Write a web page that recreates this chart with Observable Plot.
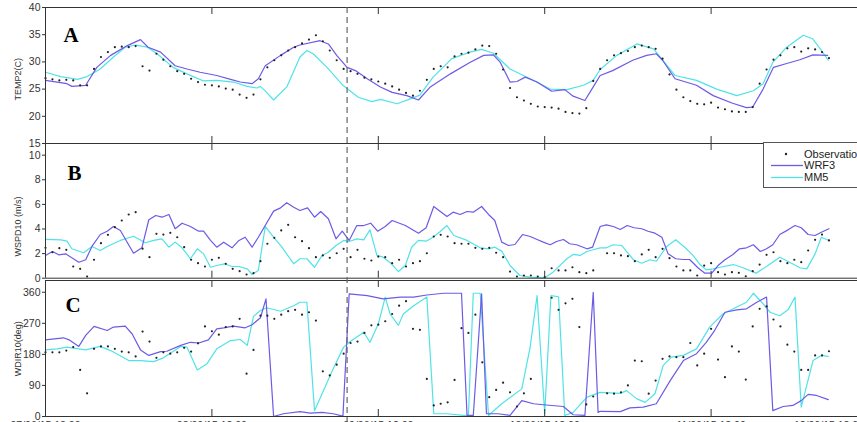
<!DOCTYPE html>
<html><head><meta charset="utf-8">
<script src="https://cdn.jsdelivr.net/npm/d3@7"></script>
<script src="https://cdn.jsdelivr.net/npm/@observablehq/plot@0.6"></script>
<style>
body{margin:0;background:#fff;}
#chart{position:relative;width:857px;height:422px;overflow:hidden;background:#fff;}
#chart svg.plotsvg{position:absolute;left:0;top:0;}
#legend{position:absolute;left:763px;top:142px;width:110px;height:44px;border:1px solid #555;background:#fff;}
</style></head><body><div id="chart"></div>
<script>
// ---------- DATA (hours since start, one observation per hour) ----------
const seriesNames = ["Observation", "WRF3", "MM5"];
const colors = {obs: "#222", wrf: "#6b5be6", mm5: "#4fe3e8"};
const forecastStart = 43.5;           // dashed vertical line (hour)
const dayTicks = [24, 48, 72, 96];
const xTickHours = [0, 24, 48, 72, 96, 113];
const xTickLabels = ["07/06/15 12:00","08/06/15 12:00","09/06/15 12:00","10/06/15 12:00","11/06/15 12:00","12/06/15 12:00"];

// Panel A: TEMP2 (C)
const aObs = [27.0,26.8,26.6,26.7,26.6,25.7,25.7,28.7,30.9,31.8,
 32.7,32.8,32.7,32.9,29.2,28.4,31.5,30.4,29.2,28.3,
 27.8,26.9,26.3,25.8,25.7,25.5,25.1,24.9,24.0,23.4,
 24.0,26.8,29.0,30.3,31.2,32.1,32.7,33.4,34.1,34.9,
 33.8,32.1,30.3,28.7,28.3,27.8,27.1,26.8,26.4,26.0,
 25.5,24.9,24.3,23.8,24.7,26.7,28.7,29.2,29.0,31.0,
 31.5,31.7,32.3,33.0,32.9,31.5,28.6,25.2,23.5,22.9,
 22.3,21.8,21.7,21.6,21.4,20.8,20.6,20.5,21.5,26.5,
 28.7,30.3,31.2,31.6,32.0,32.7,33.0,32.7,32.4,30.6,
 27.7,24.9,23.5,22.8,22.3,22.2,22.5,21.6,21.3,20.9,
 20.8,20.8,21.7,26.0,28.6,30.4,31.2,32.5,32.7,31.9,
 32.5,32.3,31.8,30.7];
const aWrfH = [0,3.1,3.8,5.8,7.4,9.4,11.8,13.7,14.8,16.6,18.7,20.4,22.3,24.7,26.7,28.1,29.8,30.7,31.7,33.9,35.8,36.7,39.6,40.8,42.0,43.5,44.7,46.4,48.3,50.0,52.1,53.8,55.5,58.4,61.2,63.2,64.6,65.6,67.0,68.0,69.2,70.9,73.0,74.9,76.1,77.8,79.0,80.0,81.8,84.7,86.7,88.1,89.0,90.8,93.9,96.3,99.1,101.1,102.0,103.5,105.0,106.9,108.8,110.7,112.8];
const aWrfV = [26.6,26.0,25.5,25.7,29.0,31.2,33.0,34.1,32.7,31.8,29.3,28.7,28.1,27.5,26.8,26.3,26.0,26.9,29.3,31.2,32.7,33.1,33.9,33.3,31.2,29.0,28.4,26.9,25.4,24.4,23.8,23.0,25.4,27.8,29.9,31.2,31.3,29.9,26.3,26.4,27.2,26.3,24.6,24.9,23.7,22.9,25.4,27.5,28.4,30.3,31.2,31.5,30.3,26.9,25.7,23.8,22.4,21.6,21.7,25.0,29.0,29.7,30.4,31.3,31.2];
const aMmH = [0,2.2,4.6,6.0,7.9,9.8,11.5,13.0,14.7,16.1,18.4,20.4,22.8,24.7,27.1,29.1,30.5,31.0,31.9,32.9,34.8,36.7,37.7,38.6,40.6,42.9,45.1,47.1,48.3,50.7,52.6,54.0,55.9,58.6,61.2,62.9,64.6,67.0,69.9,72.8,75.2,77.6,79.0,80.0,82.4,85.3,87.7,90.8,93.9,96.8,99.7,102.1,103.5,104.9,106.9,109.3,110.7,111.9,112.9];
const aMmV = [28.1,27.3,26.8,27.3,28.7,30.9,32.7,33.1,32.7,31.5,29.0,27.8,26.5,26.6,26.3,25.5,25.2,25.5,24.4,23.0,25.4,30.9,32.1,31.5,29.0,25.7,23.5,22.7,23.1,22.3,23.2,23.9,27.2,30.6,31.8,32.3,31.6,28.7,26.9,25.0,24.9,25.7,26.6,28.6,31.2,33.3,32.4,27.5,26.6,25.0,23.8,24.7,26.0,29.9,32.7,34.9,34.2,32.1,30.3];

// Panel B: WSPD10 (m/s)
const bObs = [2.47,2.11,2.44,2.31,0.95,0.76,0.14,1.50,2.85,3.53,
 4.15,4.69,5.18,5.37,2.4,1.71,3.61,3.55,3.69,3.33,
 2.52,1.50,1.22,0.95,1.50,1.66,1.17,0.76,0.57,0.30,
 0.41,1.38,2.80,3.28,3.88,4.34,3.33,3.01,2.44,1.71,
 1.85,1.66,2.03,2.39,1.71,2.31,1.58,1.44,1.76,1.71,
 1.22,1.50,0.95,1.22,1.38,2.03,3.39,3.53,3.39,2.85,
 2.80,2.80,2.47,2.39,2.47,2.07,1.71,0.54,0.14,0.22,
 0.22,0.14,0.08,0.81,0.63,0.63,0.89,0.49,0.41,0.63,
 null,2.03,2.03,1.85,1.79,1.38,1.93,2.31,1.71,2.39,
 1.63,0.95,0.63,0.63,0.22,1.03,1.22,0.49,0.30,0.49,
 0.44,0.16,0.57,1.11,1.90,2.11,1.38,1.22,1.50,1.30,
 2.25,3.12,3.55,3.07];
const bWrfH = [0,1.0,1.9,2.9,4.8,5.8,6.7,7.9,8.9,9.8,10.8,12.7,13.9,14.9,15.9,16.8,17.8,18.7,19.7,20.9,22.1,22.8,23.8,24.7,25.7,26.9,27.9,28.8,29.8,30.7,32.9,33.9,34.8,35.8,36.7,37.8,38.8,39.7,40.8,41.9,42.8,43.8,44.9,45.9,46.9,47.9,49.0,50.0,51.9,53.8,54.9,56.0,56.9,57.9,58.8,59.8,60.8,61.7,62.9,63.9,64.8,65.8,66.8,67.7,68.8,69.9,70.9,71.8,72.8,73.7,74.7,75.6,76.6,78.1,78.9,80.0,80.9,81.9,82.9,83.9,84.9,86.0,86.9,87.9,88.9,89.8,90.9,92.0,92.9,94.1,95.1,96.1,97.0,98.0,99.1,100.1,101.1,102.1,103.1,104.0,104.9,105.9,107.1,108.1,109.0,110.0,111.0,111.9,113.0];
const bWrfV = [1.85,2.17,1.90,1.98,1.30,1.50,2.58,3.55,3.82,4.20,3.88,2.03,2.47,4.75,5.10,4.96,5.18,4.02,4.47,4.20,3.82,3.82,3.07,2.52,2.93,2.47,3.07,3.33,2.52,3.33,5.45,5.72,6.13,5.77,5.50,5.72,4.96,5.42,4.83,3.20,3.82,3.07,4.28,4.28,4.47,3.82,4.20,4.69,4.28,3.66,4.10,5.83,5.45,5.02,5.37,5.18,5.42,5.37,5.83,5.18,4.69,2.93,2.66,2.74,3.55,3.39,3.15,2.93,2.72,2.98,3.15,2.80,2.72,2.39,2.52,4.20,4.34,4.20,3.96,4.28,4.10,4.02,3.82,3.66,3.33,1.98,1.58,1.52,1.52,0.85,0.41,0.41,1.03,1.50,1.90,2.39,2.47,2.72,2.17,2.39,2.72,3.55,3.93,4.28,4.10,3.55,3.47,3.74,4.02];
const bMmH = [0,2.2,3.1,3.8,5.5,6.7,7.9,8.9,10.8,12.7,14.4,15.6,16.8,17.8,18.7,19.7,20.9,21.9,22.8,23.8,24.7,25.8,26.9,27.9,29.1,29.8,30.7,31.7,32.9,34.1,35.8,36.7,37.7,38.8,39.9,40.8,41.9,43.0,43.8,44.9,45.9,46.8,47.8,48.7,49.8,50.9,51.9,52.8,53.8,54.9,55.9,56.8,57.9,58.9,60.8,62.7,63.9,64.8,65.8,67.0,68.4,69.9,72.0,73.2,75.2,76.1,77.1,78.1,79.0,80.0,80.9,81.9,83.1,84.8,86.0,87.2,88.1,89.6,90.9,92.2,93.4,94.4,95.3,96.3,97.3,99.2,100.6,102.5,104.2,105.9,107.6,108.8,109.8,111.0,111.9,113.0];
const bMmV = [3.15,3.12,3.01,2.39,2.07,2.58,2.25,2.58,3.07,3.41,2.88,3.07,3.20,2.52,2.93,2.47,1.58,2.39,1.98,0.89,1.03,1.17,0.95,0.95,0.76,0.30,0.63,4.20,3.33,2.52,1.17,1.58,1.58,0.89,1.85,2.11,2.66,3.07,2.98,3.20,3.12,3.93,1.85,1.71,1.22,0.54,1.03,2.52,3.07,3.01,3.33,3.74,4.28,3.47,3.07,2.47,2.39,2.52,2.20,1.03,0.22,0.08,0.03,0.49,1.58,1.93,1.85,2.17,2.31,2.47,2.47,2.72,2.66,1.50,1.22,1.50,1.38,2.58,3.12,2.52,1.85,1.11,0.68,0.76,0.89,1.11,0.85,0.41,1.03,1.71,1.22,0.85,0.76,1.98,3.33,3.07];

// Panel C: WDIR10 (deg)
const cObs = [186,186,186,191,201,135,67,196,203,203,
 196,188,186,174,246,217,170,186,182,186,
 199,188,212,261,247,237,259,261,283,124,
 193,292,292,283,295,305,309,295,302,278,
 131,119,150,182,213,217,242,264,266,276,
 297,321,334,254,251,109,32,37,41,106,
 256,242,295,157,56,77,98,70,29,67,
 109,null,null,344,309,328,341,259,35,58,
 null,67,66,70,90,162,160,66,104,167,
 174,172,172,213,148,182,254,165,114,203,
 188,107,261,312,319,281,261,208,188,135,
 135,177,177,189];
const cWrfH = [0,2.6,3.4,4.8,5.8,7.0,8.9,9.8,11.5,12.5,13.7,14.9,16.6,17.5,19.5,20.9,22.1,23.5,24.7,25.7,27.1,28.8,29.8,31.0,31.8,32.9,34.3,36.7,38.2,39.9,41.5,42.9,43.8,46.4,48.7,51.2,53.1,55.0,57.4,60.0,60.8,61.7,62.9,63.6,65.3,67.0,68.7,70.4,71.8,74.7,76.1,77.8,79.0,79.7,80.0,82.9,84.3,86.2,88.1,90.1,92.0,93.9,95.3,96.5,98.0,99.7,101.1,102.6,104.0,104.9,106.4,107.8,109.0,110.0,111.2,112.9];
const cWrfV = [222,228,222,203,235,261,249,259,262,239,193,177,188,189,206,215,213,222,254,257,262,257,266,286,341,0,8,14,10,12,8,1,355,350,341,346,346,352,357,357,3,3,355,8,8,3,46,37,34,29,5,3,360,12,15,14,25,27,37,104,162,182,215,249,302,309,312,331,346,17,29,32,46,64,61,49];
const cMmH = [0,1.7,3.1,5.8,7.9,9.4,12.0,13.7,15.6,17.0,19.5,20.4,21.9,23.3,24.7,26.7,28.1,29.1,30.0,31.0,31.9,33.9,35.8,36.7,37.7,38.8,40.1,41.5,43.0,43.8,45.9,46.8,48.0,49.0,49.7,50.9,51.6,53.1,55.0,56.0,57.9,60.3,61.0,61.7,62.7,63.9,65.8,68.7,69.9,70.9,72.0,72.9,74.0,74.9,76.1,78.1,80.0,82.9,83.8,85.3,86.5,87.9,89.1,90.3,92.0,93.9,95.8,97.7,99.7,101.1,102.1,103.3,104.5,105.9,107.1,108.1,109.0,110.7,111.9,112.9];
const cMmV = [193,196,201,193,203,191,162,162,159,170,203,201,135,153,196,220,223,206,290,307,315,305,321,331,331,17,75,138,201,215,244,215,268,346,297,264,297,321,346,8,8,3,3,357,357,3,37,80,201,350,8,350,347,3,12,56,70,67,75,51,41,66,148,172,177,196,259,297,317,331,357,331,302,292,309,346,27,162,177,174];

// ---------- DRAWING ----------
const W = 857, H = 422;
const font = "'Liberation Sans', Arial, sans-serif";
const toObs = arr => arr.map((v, i) => ({h: i, v})).filter(d => d.v != null);
const toLine = (hs, vs) => hs.map((h, i) => ({h, v: vs[i]}));

function panel(cfg) {
  const {top, bottom, domain, yTicks, title, titleAt, letter, letterDx, letterDy, obs, wrf, mm5, xLabels} = cfg;
  const upp = (domain[1] - domain[0]) / (bottom - top);
  const tl = 7 * upp;
  const marks = [
    Plot.line(mm5, {x: "h", y: "v", stroke: colors.mm5, strokeWidth: 1.2}),
    Plot.line(wrf, {x: "h", y: "v", stroke: colors.wrf, strokeWidth: 1.2}),
    Plot.dot(obs, {x: "h", y: "v", r: 1.1, fill: colors.obs, stroke: null}),
    Plot.ruleY([domain[0], domain[1]], {stroke: "#333", strokeWidth: 1}),
    Plot.ruleX([0], {stroke: "#333", strokeWidth: 1}),
    Plot.ruleX(dayTicks, {y1: domain[1], y2: domain[1] - tl, stroke: "#333"}),
    Plot.ruleX(dayTicks, {y1: domain[0], y2: domain[0] + tl, stroke: "#333"}),
    Plot.axisY({ticks: yTicks, tickSize: 3, tickPadding: 2, fontSize: 10.5, label: null, tickFormat: d => String(d)}),
    Plot.text([title], {text: d => d, y: titleAt, frameAnchor: "left", dx: -27, rotate: -90, fontSize: 9, textAnchor: "middle", fill: "#333"}),
    Plot.text([letter], {text: d => d, frameAnchor: "top-left", dx: letterDx, dy: letterDy, textAnchor: "start", lineAnchor: "top", fontSize: 21, fontWeight: "bold", fontFamily: "'Liberation Serif', 'Times New Roman', serif", fill: "#000"})
  ];
  if (xLabels) {
    marks.push(Plot.text(xTickHours, {x: d => d, text: (d, i) => xTickLabels[i], frameAnchor: "bottom", lineAnchor: "top", dy: 5, fontSize: 10.5, fill: "#333"}));
  }
  const svg = Plot.plot({
    width: W, height: H,
    marginLeft: 45, marginRight: 0, marginTop: top, marginBottom: H - bottom,
    x: {domain: [0, 120], range: [45, 877], axis: null},
    y: {domain},
    style: {background: "transparent", color: "#333", fontFamily: font, overflow: "hidden"},
    marks
  });
  svg.classList.add("plotsvg");
  return svg;
}

const chart = document.getElementById("chart");
chart.append(panel({top: 7, bottom: 143, domain: [15, 40], yTicks: [15, 20, 25, 30, 35, 40], title: "TEMP2(C)", titleAt: 26.8, letter: "A", letterDx: 18, letterDy: 20, obs: toObs(aObs), wrf: toLine(aWrfH, aWrfV), mm5: toLine(aMmH, aMmV)}));
chart.append(panel({top: 143, bottom: 277.7, domain: [0, 10.95], yTicks: [0, 2, 4, 6, 8, 10], title: "WSPD10 (m/s)", titleAt: 4.2, letter: "B", letterDx: 22, letterDy: 22, obs: toObs(bObs), wrf: toLine(bWrfH, bWrfV), mm5: toLine(bMmH, bMmV)}));
chart.append(panel({top: 280, bottom: 416, domain: [0, 394], yTicks: [0, 90, 180, 270, 360], title: "WDIR10(deg)", titleAt: 196, letter: "C", letterDx: 20, letterDy: 17, obs: toObs(cObs), wrf: toLine(cWrfH, cWrfV), mm5: toLine(cMmH, cMmV), xLabels: true}));

// dashed forecast-start line across all panels
const dash = Plot.plot({
  width: W, height: H, marginLeft: 45, marginRight: 0, marginTop: 7, marginBottom: 0,
  x: {domain: [0, 120], range: [45, 877], axis: null},
  y: {domain: [0, 1], axis: null},
  style: {background: "transparent", overflow: "hidden"},
  marks: [Plot.ruleX([forecastStart], {stroke: "#666", strokeWidth: 1.2, strokeDasharray: "6,4"})]
});
dash.classList.add("plotsvg");
chart.append(dash);

// legend (inside panel B, top right)
const lg = document.createElement("div");
lg.id = "legend";
const ns = "http://www.w3.org/2000/svg";
const ls = document.createElementNS(ns, "svg");
ls.setAttribute("width", 110); ls.setAttribute("height", 44);
const rows = [{y: 11, kind: "dot", c: colors.obs}, {y: 22.5, kind: "line", c: colors.wrf}, {y: 34.5, kind: "line", c: colors.mm5}];
rows.forEach((r, i) => {
  if (r.kind === "dot") {
    const c = document.createElementNS(ns, "circle");
    c.setAttribute("cx", 22); c.setAttribute("cy", r.y); c.setAttribute("r", 1.2); c.setAttribute("fill", r.c);
    ls.appendChild(c);
  } else {
    const l = document.createElementNS(ns, "line");
    l.setAttribute("x1", 7); l.setAttribute("x2", 39); l.setAttribute("y1", r.y); l.setAttribute("y2", r.y);
    l.setAttribute("stroke", r.c); l.setAttribute("stroke-width", 1.3);
    ls.appendChild(l);
  }
  const t = document.createElementNS(ns, "text");
  t.setAttribute("x", 40); t.setAttribute("y", r.y); t.setAttribute("dy", "0.35em");
  t.setAttribute("font-size", 11); t.setAttribute("font-family", font); t.setAttribute("fill", "#222");
  t.textContent = seriesNames[i];
  ls.appendChild(t);
});
lg.appendChild(ls);
chart.appendChild(lg);
</script>
</body></html>
